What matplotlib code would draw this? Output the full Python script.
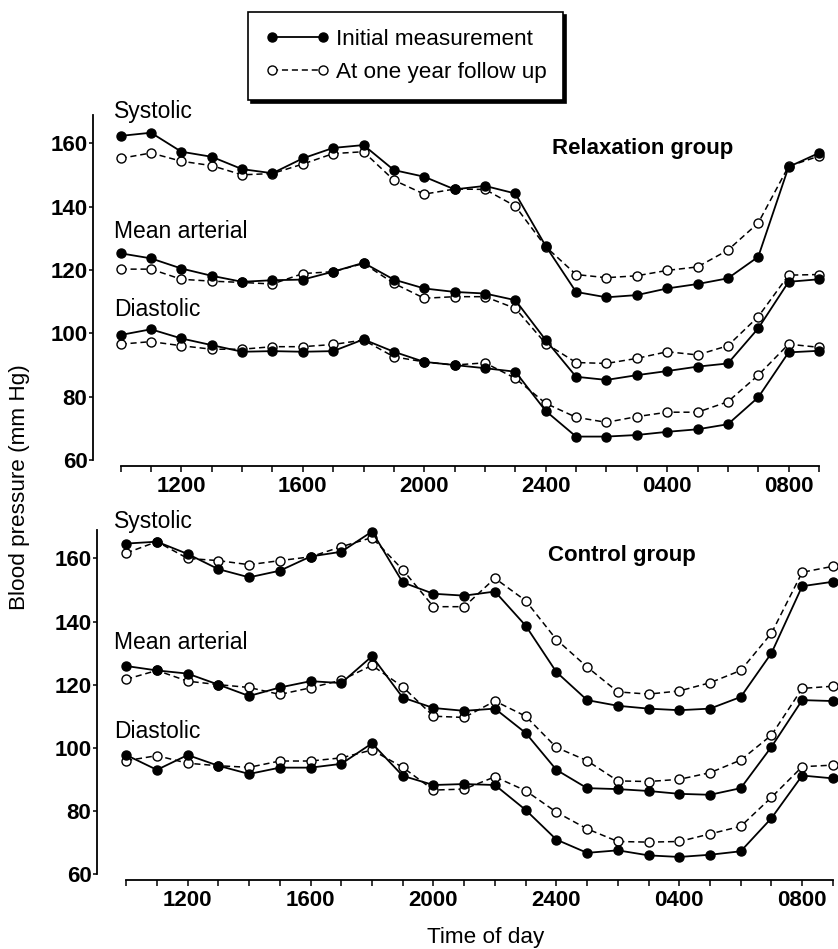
import numpy as np
import matplotlib
matplotlib.use('Agg')
import matplotlib.pyplot as plt
from matplotlib.lines import Line2D

plt.rcParams['font.family'] = ['Liberation Sans', 'DejaVu Sans']

# hours of day, 1000 through 0900 next morning (24 + h after midnight)
hours = np.arange(10, 34)
tick_hours = [12, 16, 20, 24, 28, 32]
tick_labels = ['1200', '1600', '2000', '2400', '0400', '0800']

# Relaxation group
relax_sys_init = [162.4, 163.4, 157.4, 155.8, 151.9, 150.6, 155.3, 158.6, 159.5, 151.6,
                  149.5, 145.5, 146.6, 144.2, 127.6, 113.1, 111.4, 112.1, 114.2, 115.6,
                  117.4, 124.2, 152.6, 157.0]
relax_sys_fu = [155.3, 157.0, 154.4, 153.0, 150.1, 150.5, 153.5, 156.8, 157.4, 148.4,
                144.0, 145.6, 145.5, 140.2, 127.4, 118.6, 117.6, 118.2, 119.9, 121.0,
                126.3, 134.9, 152.8, 156.0]
relax_map_init = [125.3, 123.7, 120.5, 118.2, 116.3, 116.8, 117.0, 119.5, 122.3, 117.0,
                  114.2, 113.1, 112.6, 110.5, 97.9, 86.3, 85.3, 86.8, 88.1, 89.5,
                  90.5, 101.6, 116.3, 117.1]
relax_map_fu = [120.3, 120.3, 117.1, 116.5, 116.1, 115.6, 118.9, 119.5, 122.1, 115.8,
                111.1, 111.6, 111.6, 107.9, 96.8, 90.8, 90.5, 92.1, 94.2, 93.2,
                96.1, 105.3, 118.4, 118.6]
relax_dia_init = [99.5, 101.3, 98.4, 96.3, 94.2, 94.4, 94.2, 94.4, 98.1, 94.2,
                  91.0, 90.0, 89.0, 87.9, 75.5, 67.4, 67.4, 67.9, 68.9, 69.7,
                  71.3, 79.8, 94.0, 94.5]
relax_dia_fu = [96.6, 97.4, 96.1, 95.0, 95.0, 95.8, 95.8, 96.5, 97.9, 92.6,
                91.0, 90.0, 90.7, 85.8, 77.9, 73.5, 71.9, 73.7, 75.1, 75.1,
                78.4, 86.8, 96.6, 95.6]

# Control group
ctrl_sys_init = [164.7, 165.3, 161.4, 156.6, 154.0, 156.1, 160.6, 162.1, 168.5, 152.4,
                 148.8, 148.2, 149.5, 138.7, 124.0, 115.1, 113.3, 112.4, 111.9, 112.4,
                 116.1, 130.0, 151.2, 152.6]
ctrl_sys_fu = [161.7, 165.3, 160.0, 159.3, 158.0, 159.3, 160.5, 163.7, 166.6, 156.4,
               144.7, 144.7, 153.7, 146.6, 134.3, 125.6, 117.7, 117.0, 118.0, 120.6,
               124.5, 136.3, 155.6, 157.5]
ctrl_map_init = [125.9, 124.5, 123.5, 120.0, 116.4, 119.1, 121.1, 120.5, 129.0, 115.9,
                 112.6, 111.7, 112.4, 104.7, 93.0, 87.2, 86.9, 86.3, 85.4, 85.1,
                 87.2, 100.3, 115.1, 114.8]
ctrl_map_fu = [121.7, 124.5, 121.1, 120.0, 119.1, 116.9, 119.0, 121.4, 126.1, 119.3,
               110.0, 109.6, 114.8, 110.0, 100.1, 95.9, 89.5, 89.3, 90.0, 92.1,
               96.1, 104.0, 118.8, 119.5]
ctrl_dia_init = [97.7, 93.0, 97.7, 94.3, 91.7, 93.7, 93.7, 94.9, 101.4, 91.1,
                 88.2, 88.5, 88.2, 80.3, 70.9, 66.7, 67.5, 65.9, 65.4, 66.1,
                 67.2, 77.7, 91.2, 90.3]
ctrl_dia_fu = [95.9, 97.5, 95.1, 94.3, 93.8, 95.8, 95.8, 96.8, 99.3, 93.8,
               86.6, 86.9, 90.8, 86.4, 79.6, 74.3, 70.3, 70.1, 70.3, 72.7,
               75.1, 84.3, 94.0, 94.5]

init_style = dict(color='black', linestyle='-', linewidth=1.3, marker='o',
                  markersize=6.5, markerfacecolor='black', markeredgecolor='black')
fu_style = dict(color='black', linestyle=(0, (4, 2.5)), linewidth=1.1, marker='o',
                markersize=6.5, markerfacecolor='white', markeredgecolor='black',
                markeredgewidth=1.0)

fig = plt.figure(figsize=(8.38, 9.49), dpi=100)
W, H = 838, 949


def make_ax(left, right, top, bottom, xlo):
    ax = fig.add_axes([left / W, 1 - bottom / H, (right - left) / W, (bottom - top) / H])
    ax.set_xlim(xlo, 33.1)
    ax.set_ylim(60, 169)
    ax.patch.set_alpha(0)
    for s in ['top', 'right']:
        ax.spines[s].set_visible(False)
    ax.spines['bottom'].set_position(('outward', 4.5))
    ax.spines['bottom'].set_bounds(10, 33)
    ax.spines['left'].set_bounds(60, 169)
    ax.spines['left'].set_linewidth(1.3)
    ax.spines['bottom'].set_linewidth(1.3)
    ax.set_xticks(hours, minor=True)
    ax.set_xticks(tick_hours)
    ax.set_xticklabels(tick_labels)
    ax.set_yticks([60, 80, 100, 120, 140, 160])
    ax.tick_params(axis='x', which='both', direction='out', length=4, width=1.1,
                   labelsize=16, pad=3)
    ax.tick_params(axis='y', direction='out', length=3, width=1.1, labelsize=16, pad=1)
    for lab in ax.get_xticklabels() + ax.get_yticklabels():
        lab.set_fontweight('bold')
    return ax


def draw(ax, series, title, title_xy, label_x, label_ys):
    for init, fu in series:
        ax.plot(hours, fu, zorder=3, clip_on=False, **fu_style)
        ax.plot(hours, init, zorder=4, clip_on=False, **init_style)
    for name, y in zip(['Systolic', 'Mean arterial', 'Diastolic'], label_ys):
        ax.text(label_x, y, name, fontsize=16.5, ha='left', va='baseline', clip_on=False)
    ax.text(title_xy[0], title_xy[1], title, fontsize=16, fontweight='bold',
            ha='center', va='baseline')


ax1 = make_ax(93, 822, 115, 460, 9.09)
draw(ax1, [(relax_sys_init, relax_sys_fu), (relax_map_init, relax_map_fu),
           (relax_dia_init, relax_dia_fu)],
     'Relaxation group', (27.2, 156.8), 9.78, [167.9, 130.0, 105.5])

ax2 = make_ax(97, 836, 530, 874, 9.05)
draw(ax2, [(ctrl_sys_init, ctrl_sys_fu), (ctrl_map_init, ctrl_map_fu),
           (ctrl_dia_init, ctrl_dia_fu)],
     'Control group', (26.13, 159.3), 9.61, [169.6, 131.4, 103.0])

fig.text(20 / W, 1 - 487 / H, 'Blood pressure (mm Hg)', rotation=90, fontsize=16.2,
         ha='center', va='center')
fig.text(486 / W, 1 - 937 / H, 'Time of day', fontsize=16.2, ha='center', va='center')

handles = [Line2D([], [], **init_style), Line2D([], [], **fu_style)]
leg = fig.legend(handles, ['Initial measurement', 'At one year follow up'],
                 loc='upper left', bbox_to_anchor=(248 / W, 1 - 12 / H), borderaxespad=0,
                 numpoints=2, fontsize=16.2, frameon=True, fancybox=False,
                 handlelength=2.9, handletextpad=0.25, borderpad=0.75, labelspacing=0.55,
                 shadow={'color': 'black', 'alpha': 1})
leg.get_frame().set_edgecolor('black')
leg.get_frame().set_linewidth(1.2)

fig.savefig('out.png', dpi=100)
